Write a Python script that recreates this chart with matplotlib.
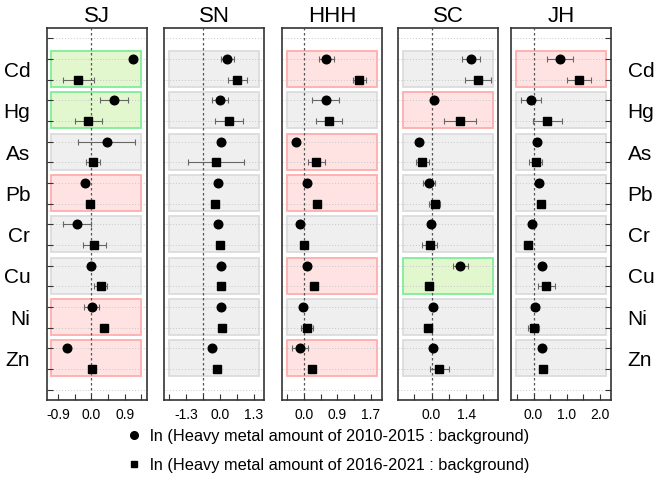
import matplotlib
matplotlib.use("Agg")
import matplotlib.pyplot as plt
from matplotlib.patches import Rectangle
from matplotlib.lines import Line2D
import numpy as np

plt.rcParams['font.family'] = ['Liberation Sans', 'DejaVu Sans']

elements = ["Cd", "Hg", "As", "Pb", "Cr", "Cu", "Ni", "Zn"]
regions = ["SJ", "SN", "HHH", "SC", "JH"]

# ln ratio, period 2010-2015 (circles) and 2016-2021 (squares)
sj_c = [1.12, 0.60, 0.41, -0.18, -0.40, -0.02, 0.01, -0.67]
sj_ce = [0.0, 0.38, 0.76, 0.08, 0.38, 0.0, 0.20, 0.0]
sj_s = [-0.35, -0.08, 0.04, -0.04, 0.08, 0.25, 0.35, 0.01]
sj_se = [0.43, 0.37, 0.20, 0.05, 0.30, 0.17, 0.0, 0.05]

sn_c = [0.29, 0.01, 0.06, -0.08, -0.06, 0.05, 0.03, -0.29]
sn_ce = [0.25, 0.30, 0.0, 0.0, 0.0, 0.0, 0.0, 0.0]
sn_s = [0.68, 0.36, -0.14, -0.18, 0.01, 0.05, 0.08, -0.11]
sn_se = [0.38, 0.53, 1.06, 0.10, 0.10, 0.05, 0.05, 0.10]

hhh_c = [0.57, 0.56, -0.19, 0.07, -0.09, 0.07, -0.03, -0.09]
hhh_ce = [0.19, 0.34, 0.0, 0.0, 0.0, 0.0, 0.0, 0.21]
hhh_s = [1.41, 0.65, 0.32, 0.34, 0.0, 0.26, 0.09, 0.20]
hhh_se = [0.17, 0.33, 0.22, 0.08, 0.0, 0.08, 0.15, 0.07]

sc_c = [1.59, 0.08, -0.49, -0.10, -0.03, 1.17, 0.04, 0.05]
sc_ce = [0.36, 0.0, 0.10, 0.24, 0.0, 0.32, 0.0, 0.0]
sc_s = [1.88, 1.14, -0.37, 0.12, -0.08, -0.10, -0.15, 0.31]
sc_se = [0.53, 0.65, 0.25, 0.24, 0.30, 0.15, 0.15, 0.39]

jh_c = [0.79, -0.08, 0.10, 0.16, -0.05, 0.25, 0.04, 0.25]
jh_ce = [0.39, 0.30, 0.10, 0.0, 0.0, 0.0, 0.12, 0.0]
jh_s = [1.37, 0.42, 0.06, 0.22, -0.18, 0.39, 0.0, 0.30]
jh_se = [0.36, 0.45, 0.20, 0.10, 0.12, 0.26, 0.18, 0.10]

# box category per element: g = green, r = red, n = neutral (grey)
sj_box = ["g", "g", "n", "r", "n", "n", "r", "r"]
sn_box = ["n", "n", "n", "n", "n", "n", "n", "n"]
hhh_box = ["r", "n", "r", "r", "n", "r", "n", "r"]
sc_box = ["n", "r", "n", "n", "n", "g", "n", "n"]
jh_box = ["r", "n", "n", "n", "n", "n", "n", "n"]

panels = [
    (sj_c, sj_ce, sj_s, sj_se, sj_box),
    (sn_c, sn_ce, sn_s, sn_se, sn_box),
    (hhh_c, hhh_ce, hhh_s, hhh_se, hhh_box),
    (sc_c, sc_ce, sc_s, sc_se, sc_box),
    (jh_c, jh_ce, jh_s, jh_se, jh_box),
]

xlims = [(-1.2, 1.5), (-2.14, 1.70), (-0.55, 1.98), (-1.36, 2.69), (-0.68, 2.34)]
major_ticks = [[-0.9, 0.0, 0.9], [-1.3, 0.0, 1.3], [0.0, 0.85, 1.7], [0.0, 1.4], [0.0, 1.0, 2.0]]
major_labels = [["-0.9", "0.0", "0.9"], ["-1.3", "0.0", "1.3"], ["0.0", "0.9", "1.7"],
                ["0.0", "1.4"], ["0.0", "1.0", "2.0"]]
minor_ticks = [[-0.45, 0.45, 1.35], [-1.95, -0.65, 0.65], [-0.425, 0.425, 1.275],
               [-0.7, 0.7, 2.1], [-0.5, 0.5, 1.5]]
ref_lines = [0.0, -0.65, 0.0, 0.0, 0.0]

box_face = {"g": "#e3f7cf", "r": "#ffe3e3", "n": "#efefef"}
box_edge = {"g": "#7fee99", "r": "#ffadad", "n": "#dcdcdc"}

fig = plt.figure(figsize=(6.56, 4.79), dpi=100)
W, H = 656, 479
lefts = [47, 164, 282, 398, 511]
top, bottom = 28, 400
pw = 100

n = len(elements)
yc = np.arange(n) * 2 + 1
ys = np.arange(n) * 2 + 2

for k, (c, ce, s, se, boxes) in enumerate(panels):
    ax = fig.add_axes([lefts[k] / W, 1 - bottom / H, pw / W, (bottom - top) / H])
    ax.set_xlim(*xlims[k])
    ax.set_ylim(2 * n + 1.5, -0.5)
    trans = ax.get_yaxis_transform()
    for i, b in enumerate(boxes):
        y0 = yc[i] - 0.38
        ax.add_patch(Rectangle((0.045, y0), 0.9, (ys[i] + 0.36) - y0, transform=trans,
                               facecolor=box_face[b], edgecolor=box_edge[b], lw=1.3, zorder=0.5))
    for yy in range(0, 2 * n + 2):
        ax.axhline(yy, color="#c8c8c8", lw=0.7, ls=(0, (1, 2)), zorder=1)
    ax.axvline(ref_lines[k], color="#555555", lw=0.9, ls=(0, (2, 2)), zorder=1.5)
    ax.errorbar(c, yc, xerr=ce, fmt="none", ecolor="#666666", elinewidth=0.8,
                capsize=2.5, capthick=0.8, zorder=2)
    ax.errorbar(s, ys, xerr=se, fmt="none", ecolor="#666666", elinewidth=0.8,
                capsize=2.5, capthick=0.8, zorder=2)
    ax.plot(c, yc, "o", color="black", ms=6.2, zorder=3, ls="none")
    ax.plot(s, ys, "s", color="black", ms=5.5, zorder=3, ls="none")

    ax.set_xticks(major_ticks[k])
    ax.set_xticklabels(major_labels[k])
    ax.set_xticks(minor_ticks[k], minor=True)
    ax.tick_params(axis="x", which="both", direction="in", length=4, width=0.8,
                   labelsize=10, pad=6, color="#333333")

    ax.set_yticks(range(0, 2 * n + 2))
    ax.set_yticklabels([])
    ax.set_yticks(list(yc + 0.5), minor=True)
    if k == 0:
        ax.set_yticklabels(elements, minor=True)
        ax.tick_params(axis="y", which="major", direction="in", length=4, width=0.8,
                       left=True, right=False, color="#333333")
        ax.tick_params(axis="y", which="minor", length=0, labelsize=15, pad=12,
                       left=True, labelleft=True)
    elif k == len(panels) - 1:
        ax.set_yticklabels(elements, minor=True)
        ax.tick_params(axis="y", which="major", direction="in", length=4, width=0.8,
                       left=False, right=True, labelleft=False, color="#333333")
        ax.tick_params(axis="y", which="minor", length=0, labelsize=15, pad=12,
                       left=False, right=True, labelleft=False, labelright=True)
    else:
        ax.tick_params(axis="y", which="both", length=0, left=False, labelleft=False)

    for sp in ax.spines.values():
        sp.set_color("#333333")
        sp.set_linewidth(1.2)
    ax.set_title(regions[k], fontsize=16, pad=4)

handles = [Line2D([], [], marker="o", color="black", ls="none", ms=5.5),
           Line2D([], [], marker="s", color="black", ls="none", ms=4.8)]
labels = ["ln (Heavy metal amount of 2010-2015 : background)",
          "ln (Heavy metal amount of 2016-2021 : background)"]
fig.legend(handles, labels, loc="upper left", bbox_to_anchor=(126 / W, 1 - 429 / H),
           frameon=False, fontsize=11.8, handlelength=1.0, handletextpad=0.45,
           labelspacing=0.85, borderaxespad=0, borderpad=0)

fig.savefig("out.png", dpi=100)
